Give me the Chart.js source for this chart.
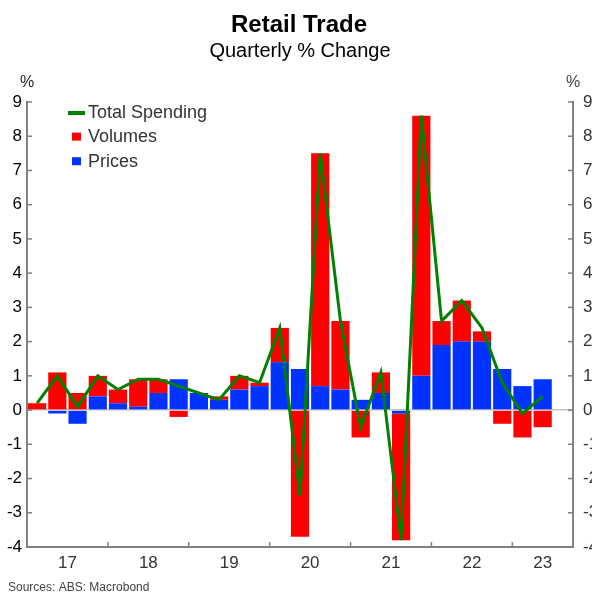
<!DOCTYPE html>
<html>
<head>
<meta charset="utf-8">
<script src="https://cdn.jsdelivr.net/npm/chart.js@4/dist/chart.umd.min.js"></script>
<style>
html,body{margin:0;padding:0;background:#fff;}
#wrap{width:592px;height:592px;}
canvas{display:block;}
</style>
</head>
<body>
<div id="wrap"><canvas id="c" width="592" height="592"></canvas></div>
<script>
// ---- Data ----
const quarters = [
  '2017Q1','2017Q2','2017Q3','2017Q4',
  '2018Q1','2018Q2','2018Q3','2018Q4',
  '2019Q1','2019Q2','2019Q3','2019Q4',
  '2020Q1','2020Q2','2020Q3','2020Q4',
  '2021Q1','2021Q2','2021Q3','2021Q4',
  '2022Q1','2022Q2','2022Q3','2022Q4',
  '2023Q1','2023Q2','2023Q3'
];
const volumes = [0.2, 1.1, 0.5, 0.6, 0.4, 0.8, 0.4, -0.2, 0.0, 0.1, 0.4, 0.1,
                 1.0, -3.7, 6.8, 2.0, -0.8, 0.6, -3.7, 7.6, 0.7, 1.2, 0.3, -0.4,
                 -0.8, -0.5, null];
const prices  = [0.0, -0.1, -0.4, 0.4, 0.2, 0.1, 0.5, 0.9, 0.5, 0.3, 0.6, 0.7,
                 1.4, 1.2, 0.7, 0.6, 0.3, 0.5, -0.1, 1.0, 1.9, 2.0, 2.0, 1.2,
                 0.7, 0.9, null];
const totalSpending = [0.2, 1.0, 0.1, 1.0, 0.6, 0.9, 0.9, 0.7, 0.5, 0.3, 1.0, 0.8,
                 2.4, -2.5, 7.5, 2.6, -0.5, 1.1, -3.8, 8.6, 2.6, 3.2, 2.4, 0.8,
                 -0.1, 0.4, null];
const yearLabels = ['17','18','19','20','21','22','23'];
const yearLabelPos = [2017.5, 2018.5, 2019.5, 2020.5, 2021.5, 2022.5, 2023.375];
const yearBoundaries = [2018, 2019, 2020, 2021, 2022, 2023];
const yMin = -4, yMax = 9;

const FONT = "'Liberation Sans', Arial, sans-serif";
const RED = '#ff0000', BLUE = '#0033ff', GREEN = '#008000', AXIS = '#808080';
const legendOrder = ['Total Spending', 'Volumes', 'Prices'];

const decor = {
  id: 'decor',
  afterDraw(chart) {
    const {ctx, chartArea: a, scales} = chart;
    ctx.save();
    // inner tick marks
    ctx.strokeStyle = AXIS;
    ctx.lineWidth = 1.5;
    const seg = (x1, y1, x2, y2) => { ctx.beginPath(); ctx.moveTo(x1, y1); ctx.lineTo(x2, y2); ctx.stroke(); };
    for (let v = yMin; v <= yMax; v++) {
      const y = scales.y.getPixelForValue(v);
      seg(a.left, y, a.left + 5, y);
      seg(a.right - 5, y, a.right, y);
    }
    yearBoundaries.forEach(yr => {
      const x = scales.xYear.getPixelForValue(yr);
      seg(x, a.bottom, x, a.bottom - 5);
    });
    // titles
    ctx.textBaseline = 'alphabetic';
    ctx.textAlign = 'center';
    ctx.fillStyle = '#000';
    ctx.font = 'bold 24px ' + FONT;
    ctx.fillText('Retail Trade', 299, 32);
    ctx.font = '20px ' + FONT;
    ctx.fillText('Quarterly % Change', 300, 57);
    // unit labels
    ctx.font = '16px ' + FONT;
    ctx.fillStyle = '#222';
    ctx.fillText('%', a.left, 87);
    ctx.fillStyle = '#444';
    ctx.fillText('%', a.right, 87);
    // footer
    ctx.textAlign = 'left';
    ctx.font = '12px ' + FONT;
    ctx.fillStyle = '#444';
    ctx.fillText('Sources: ABS: Macrobond', 8, 591);
    // legend
    ctx.font = '18px ' + FONT;
    legendOrder.forEach((lab, i) => {
      const ds = chart.data.datasets.find(d => d.label === lab);
      const yb = 117.5 + i * 24.6;
      if (ds.type === 'line') {
        ctx.fillStyle = ds.borderColor;
        ctx.fillRect(68, yb - 6.5, 17, 4);
      } else {
        ctx.fillStyle = ds.backgroundColor;
        ctx.fillRect(72, yb - 9.5, 9, 8);
      }
      ctx.fillStyle = '#333';
      ctx.fillText(lab, 88, yb);
    });
    ctx.restore();
  }
};

new Chart(document.getElementById('c'), {
  data: {
    labels: quarters,
    datasets: [
      { type: 'line', label: 'Total Spending', data: totalSpending, borderColor: GREEN,
        backgroundColor: GREEN, borderWidth: 3, pointRadius: 0, tension: 0,
        stack: 'line', order: 0, xAxisID: 'x', yAxisID: 'y' },
      { type: 'bar', label: 'Prices', data: prices, backgroundColor: BLUE,
        borderWidth: 0, stack: 'bars', order: 1, barPercentage: 0.9, categoryPercentage: 1.0,
        xAxisID: 'x', yAxisID: 'y' },
      { type: 'bar', label: 'Volumes', data: volumes, backgroundColor: RED,
        borderWidth: 0, stack: 'bars', order: 1, barPercentage: 0.9, categoryPercentage: 1.0,
        xAxisID: 'x', yAxisID: 'y' }
    ]
  },
  options: {
    responsive: false,
    devicePixelRatio: 1,
    animation: false,
    events: [],
    layout: { padding: { top: 102, left: 0, right: 0, bottom: 0 } },
    plugins: { legend: { display: false }, tooltip: { enabled: false }, title: { display: false } },
    scales: {
      x: { type: 'category', display: false, stacked: true, offset: true },
      xYear: {
        type: 'linear', position: 'bottom', min: 2017, max: 2023.75,
        afterBuildTicks: s => { s.ticks = yearLabelPos.map(v => ({ value: v })); },
        afterFit: s => { s.height = 45; },
        ticks: { autoSkip: false, maxRotation: 0, padding: 6, color: '#333',
          font: { family: FONT, size: 17 },
          callback: (v, i) => yearLabels[i] },
        grid: { display: false, drawTicks: false },
        border: { display: true, color: AXIS, width: 2 }
      },
      y: {
        type: 'linear', position: 'left', min: yMin, max: yMax, stacked: true,
        afterFit: s => { s.width = 27; },
        ticks: { stepSize: 1, padding: 5, color: '#000', font: { family: FONT, size: 17 } },
        grid: { drawTicks: false, lineWidth: 1.5,
          color: c => (c.tick && c.tick.value === 0) ? '#c4c4c4' : 'rgba(0,0,0,0)' },
        border: { display: true, color: AXIS, width: 2 }
      },
      y2: {
        type: 'linear', position: 'right', min: yMin, max: yMax,
        afterFit: s => { s.width = 19; },
        ticks: { stepSize: 1, padding: 10, color: '#333', font: { family: FONT, size: 17 } },
        grid: { display: false, drawTicks: false },
        border: { display: true, color: AXIS, width: 2 }
      }
    }
  },
  plugins: [decor]
});
</script>
</body>
</html>
